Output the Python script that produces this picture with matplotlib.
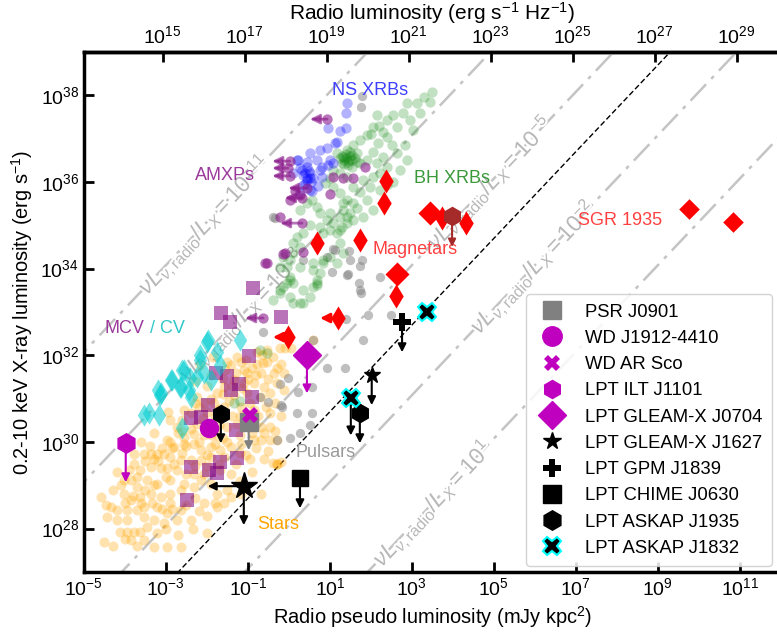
import numpy as np
import matplotlib.pyplot as plt
import matplotlib.patheffects as pe
from matplotlib.lines import Line2D

plt.rcParams['font.family'] = 'Liberation Sans'
plt.rcParams['font.size'] = 12
plt.rcParams['mathtext.fontset'] = 'custom'
plt.rcParams['mathtext.rm'] = 'Liberation Sans'
plt.rcParams['mathtext.it'] = 'Liberation Sans:italic'
plt.rcParams['mathtext.bf'] = 'Liberation Sans:bold'

# unit conversions: 1 mJy kpc^2 -> erg/s/Hz, and observing frequency for nu*L_nu
MJY_KPC2 = 1.2e18
NU = 1e8
ratios = [1e-11, 1e-8, 1e-5, 1e-2, 1e1]
ratio_labels = ['-11', '-8', '-5', '-2', '1']
ratio_label_lx = [-2.07, -1.15, 4.9, 5.95, 3.5]
lpt_fit_norm = 5e29

# population samples, (log10 radio pseudo lum, log10 L_X)
stars = [(-1.42, 31.77), (-1.18, 31.85), (-0.77, 31.81), (-0.53, 31.85), (-0.2, 31.81),
         (-1.02, 31.58), (-0.69, 31.58), (-0.37, 31.58), (-0.12, 31.58), (-1.34, 31.43),
         (-1.1, 31.35), (-0.85, 31.35), (-0.61, 31.27), (-0.28, 31.35), (-1.59, 31.27),
         (-1.75, 31.12), (-1.34, 31.08), (-1.02, 31.12), (-0.69, 31.04), (-0.45, 31.12),
         (-0.12, 31.2), (-2.24, 31.04), (-2.07, 30.89), (-1.83, 30.89), (-1.59, 30.81),
         (-1.18, 30.81), (-0.85, 30.73), (-0.57, 30.81), (-0.45, 30.66), (-2.56, 30.73),
         (-2.4, 30.66), (-2.24, 30.42), (-2.89, 30.5), (-2.72, 30.35), (-2.56, 30.12),
         (-2.32, 30.19), (-2.07, 30.15), (-1.91, 30.15), (-1.75, 30.15), (-1.5, 30.35),
         (-1.26, 30.42), (-0.69, 30.35), (-0.45, 30.35), (-2.97, 30.04), (-2.8, 29.89),
         (-2.56, 29.96), (-2.32, 29.96), (-2.15, 29.81), (-1.91, 29.89), (-1.67, 29.81),
         (-1.42, 29.89), (-1.18, 29.96), (-0.85, 30.04), (-0.69, 30.04), (-0.45, 30.04),
         (-0.28, 30.04), (-3.54, 29.73), (-3.37, 29.73), (-3.21, 29.73), (-3.05, 29.73),
         (-3.78, 29.73), (-2.89, 29.66), (-2.64, 29.58), (-2.4, 29.58), (-2.15, 29.58),
         (-1.91, 29.66), (-1.59, 29.66), (-3.78, 29.5), (-3.62, 29.35), (-3.37, 29.43),
         (-3.13, 29.39), (-2.97, 29.39), (-2.72, 29.35), (-2.32, 29.27), (-2.07, 29.27),
         (-1.67, 29.35), (-1.42, 29.27), (-0.28, 29.5), (-0.2, 29.54), (-4.02, 29.12),
         (-3.86, 29.12), (-3.7, 29.2), (-3.46, 29.12), (-3.21, 29.04), (-2.89, 29.12),
         (-2.56, 29.04), (-2.15, 29.12), (-1.91, 29.04), (-4.02, 28.81), (-3.86, 28.66),
         (-3.62, 28.73), (-3.37, 28.81), (-3.13, 28.73), (-2.89, 28.81), (-2.64, 28.89),
         (-2.32, 28.96), (-1.75, 28.81), (-1.42, 28.73), (-1.18, 28.81), (-0.69, 28.81),
         (-4.59, 28.73), (-4.35, 28.5), (-4.19, 28.43), (-3.94, 28.43), (-3.7, 28.43),
         (-3.54, 28.5), (-3.21, 28.5), (-2.97, 28.35), (-2.64, 28.43), (-2.07, 28.58),
         (-1.75, 28.5), (-1.59, 28.58), (-4.43, 28.27), (-4.19, 28.2), (-3.94, 28.2),
         (-3.54, 28.27), (-3.29, 28.2), (-3.05, 28.12), (-2.72, 28.2), (-2.4, 28.2),
         (-3.46, 28.04), (-3.21, 27.89), (-4.11, 27.93), (-3.94, 27.93), (-3.78, 27.93),
         (-3.62, 27.93), (-3.86, 27.73), (-3.54, 27.73), (-3.29, 27.58), (-2.97, 27.58),
         (-2.64, 27.58), (-4.51, 27.7), (-0.22, 32.16), (-0.1, 32.16), (0.05, 32.16),
         (0.59, 32.35), (-0.54, 32.12), (-0.78, 32.07), (-0.63, 31.82), (-1.51, 31.84),
         (-1.27, 31.95), (-1.85, 31.96), (-2.17, 31.77), (-0.39, 29.51), (-0.3, 29.5),
         (-1.3, 31.6), (-1.0, 31.45), (-0.9, 31.7), (-1.6, 31.45), (-2.0, 31.3),
         (-1.8, 30.6), (-1.4, 30.6), (-1.0, 30.5), (-2.1, 30.55), (-1.6, 30.1),
         (-1.2, 30.15), (-2.5, 29.9), (-2.0, 29.7), (-1.3, 29.5), (-2.8, 29.5),
         (-3.0, 29.2), (-2.5, 29.25), (-3.3, 29.0), (-3.7, 28.95), (-2.9, 28.6),
         (-2.3, 28.7), (-3.5, 28.9), (-4.3, 28.9), (-4.1, 29.0), (-4.45, 28.55),
         (-4.0, 28.6), (-3.8, 28.75), (-3.6, 28.6), (-3.35, 28.6), (-3.1, 28.45),
         (-2.85, 28.45), (-2.5, 28.55), (-2.2, 28.4), (-2.0, 28.3), (-1.8, 28.6),
         (-1.5, 28.9), (-1.2, 29.1), (-0.9, 29.3), (-0.6, 29.6), (-0.5, 29.8),
         (-3.9, 29.35), (-4.2, 29.3), (-3.5, 29.55), (-3.3, 29.6), (-3.1, 29.85),
         (-2.9, 30.0), (-2.7, 30.2), (-2.4, 30.3), (-2.2, 30.8), (-1.9, 31.0),
         (-1.6, 31.1), (-1.4, 31.3), (-1.15, 31.25), (-0.95, 30.9), (-0.75, 30.6),
         (-0.35, 30.9), (-0.2, 30.6), (-1.7, 30.4), (-2.6, 30.5), (-1.05, 29.7),
         (-0.8, 29.85), (-3.0, 28.0), (-2.7, 27.85), (-4.3, 27.6), (-4.0, 27.75),
         (-3.7, 27.6), (-2.35, 28.0), (-2.0, 27.9), (-2.3, 30.9), (-2.0, 30.7),
         (-1.7, 30.75), (-1.45, 30.95), (-1.2, 30.6), (-0.9, 30.2), (-0.6, 30.2),
         (-0.35, 30.25), (-1.9, 30.35), (-2.2, 30.0), (-1.8, 29.95), (-1.5, 30.0),
         (-1.2, 29.75), (-0.95, 29.6), (-2.6, 29.75), (-2.85, 29.85), (-3.2, 29.55),
         (-1.7, 29.5), (-2.0, 29.45), (-2.3, 29.45), (-1.1, 31.65), (-0.8, 31.55),
         (-0.5, 31.45), (-0.3, 31.7), (-1.55, 31.65), (-1.9, 31.55), (-2.3, 31.4),
         (-0.65, 32.0), (-0.4, 31.95), (-1.05, 31.9), (-2.6, 30.25), (-3.4, 29.9),
         (-3.6, 30.0), (-3.3, 30.2), (-2.95, 30.7)]

pulsars = [(1.76, 37.73), (1.78, 37.98), (-0.34, 35.17), (1.12, 34.43), (1.78, 34.2),
           (1.41, 33.85), (1.73, 33.5), (0.34, 34.2), (0.93, 34.26), (1.07, 34.45),
           (1.46, 34.4), (1.44, 33.87), (1.71, 33.67), (2.22, 33.8), (1.93, 32.93),
           (2.49, 32.93), (1.39, 32.83), (1.8, 32.35), (0.59, 32.35), (1.76, 33.43),
           (1.37, 31.7), (0.93, 31.7), (-0.63, 32.53), (0.22, 31.15), (-0.02, 31.47),
           (-0.17, 30.8), (0.2, 30.66), (0.56, 30.66), (0.51, 30.39), (0.27, 30.2),
           (0.02, 30.09), (-0.71, 31.03), (-0.51, 30.92), (-0.22, 31.33), (-0.3, 30.04),
           (-0.2, 30.85), (0.56, 31.26), (-0.39, 35.19), (1.05, 33.92), (1.49, 34.2),
           (1.73, 34.05)]

bh_xrbs = [(3.49, 38.08), (3.44, 37.84), (3.12, 37.82), (2.88, 37.82), (3.2, 37.59),
           (2.78, 37.59), (2.54, 37.54), (2.39, 37.43), (2.15, 37.54), (2.63, 37.27),
           (2.29, 37.15), (2.05, 37.27), (1.9, 37.08), (2.39, 37.04), (2.51, 36.85),
           (2.17, 36.9), (2.63, 36.67), (2.29, 36.58), (2.05, 36.69), (1.73, 36.97),
           (1.56, 36.85), (1.66, 36.67), (1.41, 36.74), (1.49, 36.5), (1.32, 36.58),
           (1.17, 36.67), (1.29, 36.44), (1.54, 36.34), (1.73, 36.44), (1.9, 36.5),
           (2.15, 36.44), (2.39, 36.34), (2.22, 36.2), (2.05, 36.11), (1.98, 35.88),
           (1.8, 36.04), (1.73, 35.77), (1.56, 35.88), (1.41, 36.11), (1.24, 36.2),
           (1.07, 36.27), (1.0, 36.09), (0.88, 35.97), (1.07, 35.88), (1.24, 35.74),
           (1.41, 35.58), (1.56, 35.51), (1.66, 35.4), (1.49, 35.28), (1.32, 35.35),
           (1.24, 35.19), (1.41, 35.05), (1.56, 35.12), (1.29, 34.96), (1.17, 34.82),
           (1.0, 34.89), (0.83, 34.82), (0.93, 35.12), (0.76, 35.28), (0.68, 35.42),
           (0.56, 35.58), (0.44, 35.51), (0.27, 35.35), (0.51, 35.0), (0.34, 34.82),
           (0.2, 34.73), (0.27, 34.5), (0.1, 34.36), (0.02, 34.2), (-0.05, 34.03),
           (0.02, 33.8), (0.1, 33.66), (-0.15, 33.57), (0.68, 33.66), (0.76, 33.89),
           (0.83, 34.13), (1.0, 34.26), (1.24, 34.59), (1.32, 34.36), (1.17, 34.13),
           (1.9, 35.58), (2.05, 35.35), (1.8, 35.19), (2.22, 35.81), (2.39, 35.93),
           (2.54, 36.0), (2.71, 36.27), (2.88, 36.5), (2.83, 36.85), (3.02, 37.2),
           (2.95, 37.43), (0.1, 34.59), (-0.15, 34.26), (-0.22, 34.03), (-0.05, 33.66),
           (0.02, 33.34), (0.27, 33.2), (0.51, 33.34), (0.59, 33.96), (-0.22, 33.5),
           (-0.39, 33.27), (0.1, 33.2), (0.68, 33.62), (-0.54, 32.05), (0.59, 33.57),
           (0.34, 33.5), (0.34, 33.2), (0.68, 33.73), (0.02, 33.73), (0.27, 34.03),
           (0.59, 34.13), (0.83, 34.2), (1.07, 35.05), (1.24, 34.89), (1.0, 35.28),
           (0.76, 34.96), (1.41, 35.19), (1.32, 35.51), (-1.35, 30.9), (-1.2, 30.95),
           (-0.71, 32.12), (-0.22, 33.43), (1.3, 36.6), (1.4, 36.55), (1.5, 36.6),
           (1.45, 36.45), (1.35, 36.5), (1.55, 36.5), (1.6, 36.55), (1.4, 36.65),
           (1.5, 36.7), (1.25, 36.55), (1.65, 36.45), (1.45, 36.4), (1.55, 36.62),
           (1.35, 36.42), (2.0, 37.1), (2.2, 37.3), (3.3, 37.95)]

ns_xrbs = [(1.41, 37.82), (1.39, 37.59), (0.95, 37.24), (1.24, 37.17), (1.39, 37.24),
           (1.17, 36.92), (0.76, 36.74), (0.51, 36.67), (0.93, 36.78), (0.22, 36.5),
           (0.44, 36.46), (0.68, 36.5), (1.0, 36.5), (0.32, 36.27), (0.51, 36.2),
           (0.76, 36.27), (0.59, 36.09), (0.44, 36.04), (0.95, 36.39), (0.34, 35.93),
           (0.56, 35.79), (0.27, 35.74), (0.71, 35.9), (0.8, 36.11), (0.1, 36.2),
           (1.12, 36.9), (0.2, 36.5), (0.44, 36.34), (0.51, 36.09), (0.27, 36.32),
           (1.07, 36.44), (0.8, 36.34), (0.51, 35.81), (0.4, 36.2), (0.45, 36.1),
           (0.5, 36.25), (0.35, 36.15), (0.55, 36.0), (0.4, 35.95)]

amxps = [(-0.22, 35.19), (1.85, 36.34), (1.56, 36.09), (1.07, 36.11), (0.34, 34.38),
         (-0.54, 34.13), (1.0, 35.72), (0.02, 35.58), (-0.1, 34.36), (-0.59, 34.13),
         (-0.15, 34.33), (0.27, 35.7), (0.15, 35.8), (1.32, 36.09)]
# AMXP radio upper limits: (log x, log L_X, log x arrow tip)
amxp_limits = [(0.93, 37.45, 0.51), (0.02, 36.48, -0.41), (-0.02, 36.32, -0.41),
               (0.02, 36.14, -0.41), (0.44, 35.86, -0.02), (0.32, 35.63, -0.1),
               (0.32, 35.05, -0.22), (-0.63, 32.86, -1.07)]

mcvs = [(-0.88, 33.55), (-1.66, 32.97), (-1.44, 32.76), (-0.2, 32.88), (-0.98, 31.98),
        (-1.78, 31.59), (-1.51, 31.52), (-1.22, 31.33), (-1.41, 31.19), (-0.9, 31.03),
        (-1.98, 30.85), (-2.39, 30.55), (-2.15, 30.57), (-1.29, 30.27), (-1.68, 29.53),
        (-1.27, 29.62), (-2.39, 29.42), (-1.95, 29.35), (-1.76, 29.28), (-2.49, 28.65)]

cvs = [(-2.0, 32.3), (-1.76, 32.07), (-2.17, 31.89), (-2.61, 31.65), (-2.41, 31.47),
       (-2.85, 31.42), (-3.2, 31.19), (-3.15, 31.08), (-2.66, 31.26), (-3.41, 30.66),
       (-3.17, 30.62), (-2.61, 30.32), (-1.2, 32.35), (-3.54, 30.62), (-3.12, 31.12),
       (-2.88, 31.42), (-2.56, 31.65), (-2.39, 31.03), (-2.24, 31.5), (-2.07, 31.58),
       (-1.9, 31.42), (-1.68, 31.77), (-2.63, 31.26), (-2.44, 31.19), (-1.98, 32.35),
       (-2.17, 32.0)]

magnetars_thin = [(2.37, 36.02), (2.32, 35.51), (3.73, 35.17), (4.32, 35.05),
                  (1.73, 34.66), (0.68, 34.59), (2.61, 33.36)]
magnetars_wide = [(3.44, 35.28), (2.63, 33.87)]
magnetar_limits = [(1.2, 32.86, 0.76), (-0.02, 32.42, -0.39)]
magnetar_hex = (3.98, 35.21, 34.5)
sgr1935 = [(9.76, 35.37), (10.83, 35.07)]

# long-period transients and white dwarfs: (log x, log L_X, log L_X arrow tip or None)
psr_j0901 = (-0.98, 30.45, 29.81)
wd_j1912 = (-1.95, 30.32)
wd_arsco = (-0.95, 30.62)
ilt_j1101 = (-3.98, 29.97, 29.07)
gleam_j0704 = (0.44, 32.0, 31.12)
gleam_j1627 = [(2.02, 31.54, 30.85), (-1.1, 28.98, 28.08)]
gleam_j1627_xlim = -1.98
gpm_j1839 = (2.76, 32.76, 32.07)
chime_j0630 = (0.27, 29.16, 28.47)
askap_j1935 = [(-1.66, 30.64, 29.97), (1.73, 30.66, 29.97)]
askap_j1832 = [(1.51, 31.01, 30.15), (3.37, 32.99, None)]


def unlog(pairs):
    arr = np.array(pairs, dtype=float)
    return 10 ** arr[:, 0], 10 ** arr[:, 1]


def arrow(ax, x0, y0, x1, y1, color, lw=1.5, scale=12, alpha=1.0, z=6):
    ax.annotate('', xy=(10 ** x1, 10 ** y1), xytext=(10 ** x0, 10 ** y0),
                arrowprops=dict(arrowstyle='-|>', color=color, lw=lw, alpha=alpha,
                                mutation_scale=scale, shrinkA=0, shrinkB=0),
                zorder=z)


fig = plt.figure(figsize=(7.77, 6.39), dpi=100)
ax = fig.add_axes([0.108, 0.1049, 0.897, 0.8138])
ax.set_xscale('log')
ax.set_yscale('log')
ax.set_xlim(1e-5, 1e12)
ax.set_ylim(1e27, 1e39)

# constant nuL_nu / L_X lines
xx = np.logspace(-6, 13, 200)
for r, lab, lx in zip(ratios, ratio_labels, ratio_label_lx):
    ax.plot(xx, NU * MJY_KPC2 * xx / r, color='#c4c4c4', lw=1.8, ls='-.',
            dashes=(9, 3, 1.5, 3), zorder=1)
    x0 = 10 ** lx
    ax.text(x0, NU * MJY_KPC2 * x0 / r,
            r'$\nu L_{\nu,\rm radio}/L_X = 10^{' + lab + '}$',
            rotation=46.6, rotation_mode='anchor', ha='center', va='center',
            color='#b8b8b8', fontsize=16.5, zorder=2,
            path_effects=[pe.withStroke(linewidth=3, foreground='white')])
ax.plot(xx, lpt_fit_norm * xx, color='k', lw=1.0, ls=(0, (4, 2)), zorder=2)

sx, sy = unlog(stars)
ax.scatter(sx, sy, s=52, color='orange', alpha=0.32, lw=0, zorder=3)
px, py = unlog(pulsars)
ax.scatter(px, py, s=45, color='gray', alpha=0.5, lw=0, zorder=3)
bx, by = unlog(bh_xrbs)
ax.scatter(bx, by, s=55, color='green', alpha=0.24, lw=0, zorder=3)
nx, ny = unlog(ns_xrbs)
ax.scatter(nx, ny, s=55, color='blue', alpha=0.3, lw=0, zorder=3)

amxp_color = '#8b1a8b'
ax_, ay_ = unlog(amxps)
ax.scatter(ax_, ay_, s=55, color=amxp_color, alpha=0.6, lw=0, zorder=4)
for x0, y0, x1 in amxp_limits:
    ax.scatter([10 ** x0], [10 ** y0], s=55, color=amxp_color, alpha=0.6, lw=0, zorder=4)
    arrow(ax, x0, y0, x1, y0, amxp_color, lw=2, scale=14, alpha=0.6, z=4)

mx, my = unlog(mcvs)
ax.scatter(mx, my, s=110, marker='s', color='purple', alpha=0.55, lw=0, zorder=4)
cx, cy = unlog(cvs)
ax.scatter(cx, cy, s=130, marker='d', color='darkturquoise', alpha=0.55, lw=0, zorder=4)

gx, gy = unlog(magnetars_thin)
ax.scatter(gx, gy, s=150, marker='d', color='red', lw=0, zorder=5)
gx, gy = unlog(magnetars_wide)
ax.scatter(gx, gy, s=150, marker='D', color='red', lw=0, zorder=5)
for x0, y0, x1 in magnetar_limits:
    ax.scatter([10 ** x0], [10 ** y0], s=150, marker='d', color='red', lw=0, zorder=5)
    arrow(ax, x0, y0, x1, y0, 'red', lw=2, scale=14, z=5)
hx, hy, hy1 = magnetar_hex
ax.scatter([10 ** hx], [10 ** hy], s=200, marker='h', color='brown', lw=0, zorder=5)
arrow(ax, hx, hy, hx, hy1, 'brown', lw=1.5, scale=11, z=5)
gx, gy = unlog(sgr1935)
ax.scatter(gx, gy, s=110, marker='D', color='red', lw=0, zorder=5)

# LPTs and white dwarfs
ax.plot(10 ** psr_j0901[0], 10 ** psr_j0901[1], 's', color='gray', ms=13, zorder=6)
arrow(ax, psr_j0901[0], psr_j0901[1], psr_j0901[0], psr_j0901[2], 'gray', z=6)
ax.plot(10 ** wd_j1912[0], 10 ** wd_j1912[1], 'o', color='m', ms=13, zorder=6)
ax.plot(10 ** wd_arsco[0], 10 ** wd_arsco[1], 'X', color='m', ms=12, mew=0, zorder=7)
ax.plot(10 ** ilt_j1101[0], 10 ** ilt_j1101[1], 'h', color='m', ms=14, zorder=6)
arrow(ax, ilt_j1101[0], ilt_j1101[1], ilt_j1101[0], ilt_j1101[2], 'm', z=6)
ax.plot(10 ** gleam_j0704[0], 10 ** gleam_j0704[1], 'D', color='m', ms=14, zorder=6)
arrow(ax, gleam_j0704[0], gleam_j0704[1], gleam_j0704[0], gleam_j0704[2], 'm', z=6)
for i, (x0, y0, y1) in enumerate(gleam_j1627):
    ax.plot(10 ** x0, 10 ** y0, '*', color='k', ms=12 if i == 0 else 20, zorder=7)
    arrow(ax, x0, y0, x0, y1, 'k', z=6)
arrow(ax, gleam_j1627[1][0], gleam_j1627[1][1], gleam_j1627_xlim, gleam_j1627[1][1], 'k', z=6)
ax.plot(10 ** gpm_j1839[0], 10 ** gpm_j1839[1], 'P', color='k', ms=13, mew=0, zorder=7)
arrow(ax, gpm_j1839[0], gpm_j1839[1], gpm_j1839[0], gpm_j1839[2], 'k', z=6)
ax.plot(10 ** chime_j0630[0], 10 ** chime_j0630[1], 's', color='k', ms=11, zorder=7)
arrow(ax, chime_j0630[0], chime_j0630[1], chime_j0630[0], chime_j0630[2], 'k', z=6)
for x0, y0, y1 in askap_j1935:
    ax.plot(10 ** x0, 10 ** y0, 'h', color='k', ms=13, zorder=7)
    arrow(ax, x0, y0, x0, y1, 'k', z=6)
for x0, y0, y1 in askap_j1832:
    ax.plot(10 ** x0, 10 ** y0, 'X', color='k', mec='cyan', mew=1.5, ms=13, zorder=7)
    if y1 is not None:
        arrow(ax, x0, y0, x0, y1, 'k', z=6)

# population labels
ax.text(10 ** 1.98, 10 ** 38.12, 'NS XRBs', color='#4040ff', ha='center', va='center', fontsize=13)
ax.text(10 ** -1.56, 10 ** 36.14, 'AMXPs', color='#9b3a9b', ha='center', va='center', fontsize=13)
ax.text(10 ** 3.98, 10 ** 36.09, 'BH XRBs', color='#3a9a3a', ha='center', va='center', fontsize=13)
ax.text(10 ** 3.07, 10 ** 34.43, 'Magnetars', color='#ff4040', ha='center', va='center', fontsize=13)
ax.text(10 ** 8.07, 10 ** 35.12, 'SGR 1935', color='#ff4040', ha='center', va='center', fontsize=13)
ax.text(10 ** -4.49, 10 ** 32.62, 'MCV', color='#9b3a9b', ha='left', va='center', fontsize=13)
ax.text(10 ** -3.4, 10 ** 32.62, '/ CV', color='#30c8c8', ha='left', va='center', fontsize=13)
ax.text(10 ** 0.9, 10 ** 29.76, 'Pulsars', color='#9a9a9a', ha='center', va='center', fontsize=13)
ax.text(10 ** -0.27, 10 ** 28.1, 'Stars', color='orange', ha='center', va='center', fontsize=13)

# axes styling
ax.set_xticks([10.0 ** k for k in range(-5, 12, 2)])
ax.set_yticks([10.0 ** k for k in range(28, 39, 2)])
ax.minorticks_off()
ax.tick_params(which='major', direction='in', length=7, width=2, labelsize=14, top=False)
for sp in ax.spines.values():
    sp.set_linewidth(2.5)
ax.set_xlabel(r'Radio pseudo luminosity (mJy kpc$^{2}$)', fontsize=14.4)
ax.set_ylabel(r'0.2-10 keV X-ray luminosity (erg s$^{-1}$)', fontsize=14.4)

secax = ax.secondary_xaxis('top', functions=(lambda x: x * MJY_KPC2, lambda x: x / MJY_KPC2))
secax.set_xticks([10.0 ** k for k in range(15, 30, 2)])
secax.minorticks_off()
secax.tick_params(which='major', direction='in', length=7, width=2, labelsize=14)
secax.spines['top'].set_linewidth(2.5)
secax.set_xlabel(r'Radio luminosity (erg s$^{-1}$ Hz$^{-1}$)', fontsize=15)

handles = [
    Line2D([], [], ls='', marker='s', color='gray', ms=13),
    Line2D([], [], ls='', marker='o', color='m', ms=14),
    Line2D([], [], ls='', marker='X', color='m', ms=12, mew=0),
    Line2D([], [], ls='', marker='h', color='m', ms=13),
    Line2D([], [], ls='', marker='D', color='m', ms=14),
    Line2D([], [], ls='', marker='*', color='k', ms=13),
    Line2D([], [], ls='', marker='P', color='k', ms=13, mew=0),
    Line2D([], [], ls='', marker='s', color='k', ms=13),
    Line2D([], [], ls='', marker='h', color='k', ms=14),
    Line2D([], [], ls='', marker='X', color='k', mec='cyan', mew=1.5, ms=13),
]
labels = ['PSR J0901', 'WD J1912-4410', 'WD AR Sco', 'LPT ILT J1101', 'LPT GLEAM-X J0704',
          'LPT GLEAM-X J1627', 'LPT GPM J1839', 'LPT CHIME J0630', 'LPT ASKAP J1935',
          'LPT ASKAP J1832']
leg = ax.legend(handles, labels, loc='lower right', bbox_to_anchor=(0.987, 0.0115),
                borderaxespad=0, fontsize=13.3, labelspacing=0.5, handletextpad=0.9,
                handlelength=1.8, borderpad=0.5, framealpha=0.85)
leg.set_zorder(10)

fig.savefig('out.png', dpi=100)
